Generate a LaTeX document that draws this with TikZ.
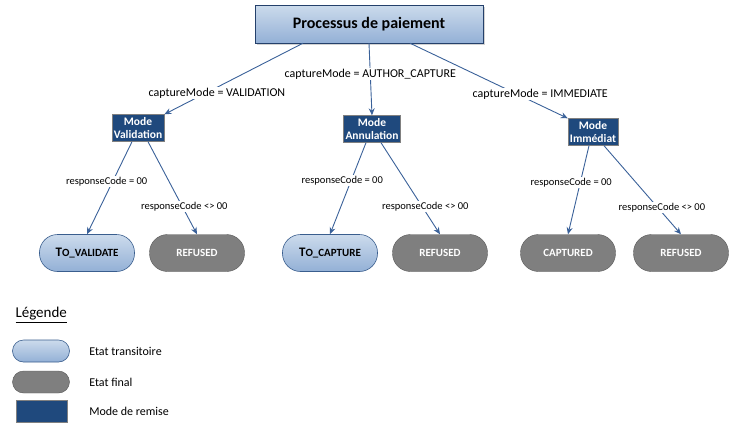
\documentclass[tikz,border=0pt]{standalone}
\usepackage{fontspec}
\setmainfont{Carlito}
\usetikzlibrary{shapes,positioning,arrows,arrows.meta,calc,shadows}

\definecolor{modeblue}{HTML}{1F497D}
\definecolor{edgeblue}{HTML}{3A6199}
\definecolor{titleline}{HTML}{24406B}
\definecolor{pilltop}{HTML}{CCDBEC}
\definecolor{pillbot}{HTML}{93B0D6}
\definecolor{pillline}{HTML}{3A5E8E}
\definecolor{finalgrey}{HTML}{7F7F7F}

% etat name with a tall first letter
\newcommand{\etatname}[2]{{\fontsize{13}{14}\selectfont #1}#2}

\begin{document}
\begin{tikzpicture} [
					x=1pt,y=-1pt,
					every node/.style={font=\fontsize{12}{14}\selectfont},
					procbox/.style={draw=titleline,top color=pilltop,bottom color=pillbot,minimum width=228pt,minimum height=38pt,
						drop shadow={shadow xshift=2pt,shadow yshift=-2pt,fill=gray!70},font=\bfseries\fontsize{16}{18}\selectfont},
					modebox/.style={draw=gray,fill=modeblue,text=white,align=center,inner sep=2pt,minimum height=27pt,
						font=\bfseries\fontsize{11.5}{13}\selectfont},
					transit/.style={draw=pillline,semithick,top color=pilltop,bottom color=pillbot,rounded corners=18pt,
						minimum width=95pt,minimum height=37pt,font=\bfseries\fontsize{11}{13}\selectfont},
					final/.style={draw=gray!70!black,fill=finalgrey,text=white,rounded corners=18pt,
						minimum width=95pt,minimum height=37pt,font=\bfseries\fontsize{11}{13}\selectfont},
					link/.style={-{Stealth[length=7pt,width=6pt]},edgeblue,line width=0.9pt},
					cond/.style={fill=white,text=black,inner sep=1pt,font=\fontsize{12}{14}\selectfont},
					resp/.style={fill=white,text=black,inner sep=1pt,font=\fontsize{10.5}{12}\selectfont},
					node distance=16pt,
				]
				\useasboundingbox (0,0) rectangle (740,432);
				
				\node[procbox] (proc) at (369,24) {Processus de paiement};
				
				\node[modebox] (valid) at (138,128) {Mode\\Validation};
				\node[modebox] (annul) at (372,129) {Mode\\Annulation};
				\node[modebox] (immed) at (593,132) {Mode\\Immédiat};
				
				\node[transit] (tovalid) at (87,253) {\etatname{T}{O\_VALIDATE}};
				\node[final] (refval) at (197,253) {REFUSED};
				\node[transit] (tocapt) at (330,253) {\etatname{T}{O\_CAPTURE}};
				\node[final] (refann) at (440,253) {REFUSED};
				\node[final] (captured) at (568,253) {CAPTURED};
				\node[final] (refimm) at (681,253) {REFUSED};
				
				\draw[link] ($(proc.south)+(-66,0)$) -- node[cond,pos=0.7,xshift=11pt] {captureMode = VALIDATION} (valid.north east);
				\draw[link] (proc.south) -- node[cond,pos=0.43] {captureMode = AUTHOR\_CAPTURE} (annul.north);
				\draw[link] ($(proc.south)+(41,0)$) -- node[cond,pos=0.68,xshift=23pt] {captureMode = IMMEDIATE} (immed.north west);
				
				\draw[link] ($(valid.south)+(-6,0)$) -- node[resp,pos=0.43,xshift=-6pt] {responseCode = 00} (tovalid.north);
				\draw[link] ($(valid.south)+(10,0)$) -- node[resp,pos=0.7,xshift=2pt] {responseCode <> 00} (refval.north);
				\draw[link] ($(annul.south)+(-6,0)$) -- node[resp,pos=0.41,xshift=-9pt] {responseCode = 00} (tocapt.north);
				\draw[link] ($(annul.south)+(9,0)$) -- node[resp,pos=0.7,xshift=3pt] {responseCode <> 00} (refann.north);
				\draw[link] ($(immed.south)+(-4,0)$) -- node[resp,pos=0.42,xshift=-9pt] {responseCode = 00} (captured.north);
				\draw[link] ($(immed.south)+(11,0)$) -- node[resp,pos=0.7,xshift=4pt] {responseCode <> 00} (refimm.north);
				
				% legende
				\node[anchor=west,font=\fontsize{15}{17}\selectfont] (legend) at (12,315) {\underline{Légende}};
				\node[transit,minimum width=57pt,minimum height=22pt,rounded corners=11pt] (legtrans) at (41,351) {};
				\node[final,minimum width=57pt,minimum height=22pt,rounded corners=11pt] (legfinal) at (41,382) {};
				\node[modebox,minimum width=51pt,minimum height=22pt] (legmode) at (42,411) {};
				\node[right=of legtrans] (txttrans) {Etat transitoire};
				\node[anchor=west] (txtfinal) at (txttrans.west |- legfinal) {Etat final};
				\node[anchor=west] (txtmode) at (txttrans.west |- legmode) {Mode de remise};
				
			\end{tikzpicture}
\end{document}
